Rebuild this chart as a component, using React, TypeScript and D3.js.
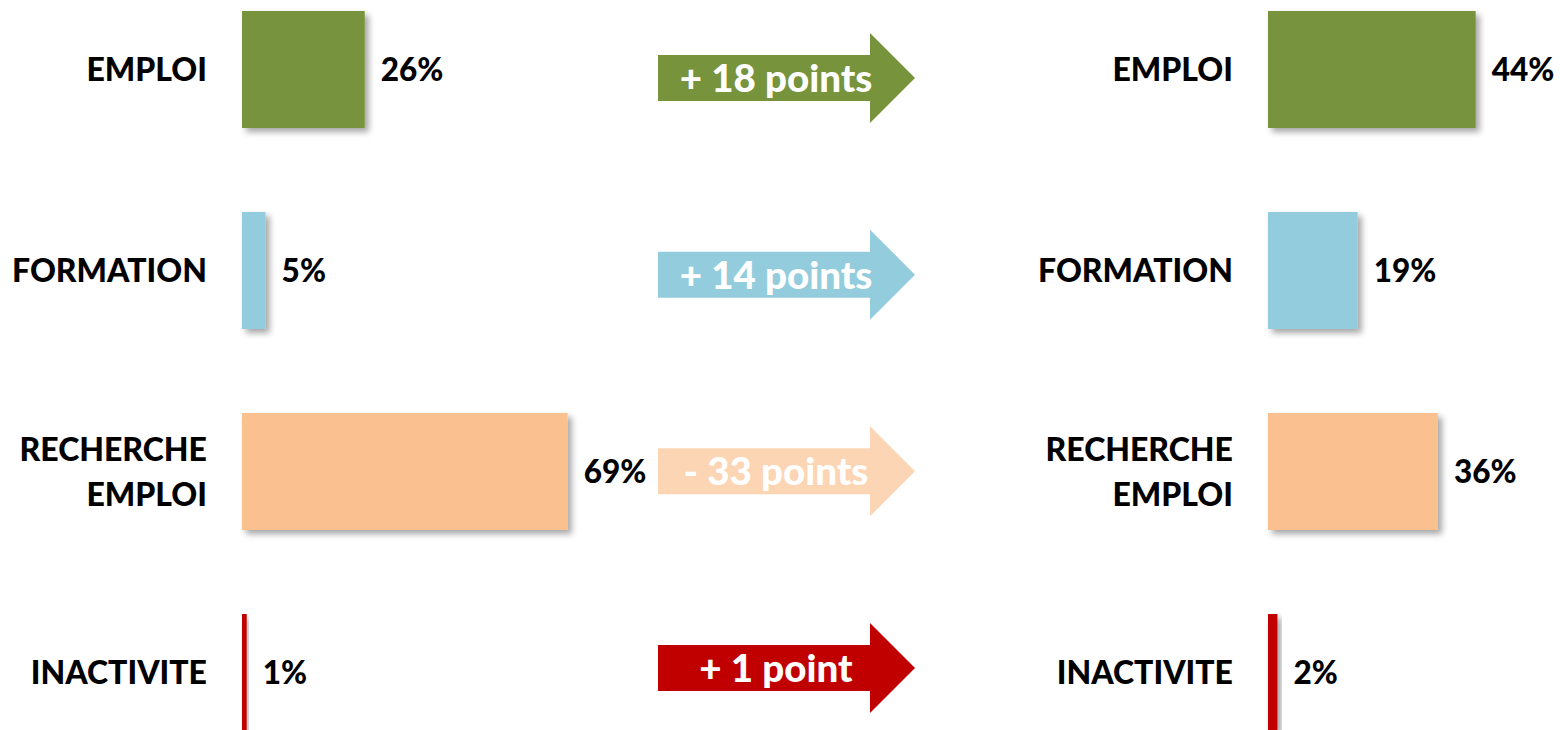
import * as d3 from 'd3';

const categories = ['EMPLOI', 'FORMATION', 'RECHERCHE EMPLOI', 'INACTIVITE'];
const labelLines = [['EMPLOI'], ['FORMATION'], ['RECHERCHE', 'EMPLOI'], ['INACTIVITE']];
const before = [26, 5, 69, 1];
const after = [44, 19, 36, 2];
const deltas = ['+ 18 points', '+ 14 points', '- 33 points', '+ 1 point'];
const barColors = ['#77933C', '#93CDDD', '#FAC090', '#C00000'];
const arrowColors = ['#77933C', '#93CDDD', '#FCD5B5', '#C00000'];

const W = 1560;
const H = 730;
const font = 'Lato, "Open Sans", sans-serif';

export default function App() {
  const y = d3.scaleBand<string>().domain(categories).range([11, 731]).paddingInner(84 / 201).paddingOuter(0);
  const yArrow = d3.scalePoint<string>().domain(categories).range([78, 668]);
  const xLeft = d3.scaleLinear().domain([0, 100]).range([242, 714]);
  const xRight = d3.scaleLinear().domain([0, 100]).range([1268, 1740]);

  const arrowX0 = 658;
  const arrowNeck = 870;
  const arrowTip = 915;
  const bodyHalf = 23;
  const headHalf = 45;

  const arrowPath = (cy: number) => {
    const p = d3.path();
    p.moveTo(arrowX0, cy - bodyHalf);
    p.lineTo(arrowNeck, cy - bodyHalf);
    p.lineTo(arrowNeck, cy - headHalf);
    p.lineTo(arrowTip, cy);
    p.lineTo(arrowNeck, cy + headHalf);
    p.lineTo(arrowNeck, cy + bodyHalf);
    p.lineTo(arrowX0, cy + bodyHalf);
    p.closePath();
    return p.toString();
  };

  const panel = (x: d3.ScaleLinear<number, number>, values: number[], labelRight: number, key: string) => (
    <g key={key}>
      {categories.map((c, i) => {
        const y0 = y(c)!;
        const cy = y0 + y.bandwidth() / 2;
        const lines = labelLines[i];
        return (
          <g key={c}>
            <rect
              x={x(0)}
              y={y0}
              width={x(values[i]) - x(0)}
              height={y.bandwidth()}
              fill={barColors[i]}
              filter="url(#shadow)"
            />
            <text
              x={x(values[i]) + 16}
              y={cy}
              dy="0.36em"
              fontFamily={font}
              fontWeight={900}
              fontSize={31.5}
              fill="#000"
            >
              {values[i]}%
            </text>
            {lines.map((l, j) => (
              <text
                key={j}
                x={labelRight}
                y={cy + (j - (lines.length - 1) / 2) * 45}
                dy="0.36em"
                textAnchor="end"
                fontFamily={font}
                fontWeight={900}
                fontSize={32}
                fill="#000"
              >
                {l}
              </text>
            ))}
          </g>
        );
      })}
    </g>
  );

  return (
    <svg width={W} height={H} style={{ position: 'absolute', left: 0, top: 0, background: '#fff' }}>
      <defs>
        <filter id="shadow" x="-20%" y="-20%" width="160%" height="160%">
          <feDropShadow dx="4" dy="4" stdDeviation="3" floodColor="#000" floodOpacity="0.35" />
        </filter>
      </defs>
      <rect width={W} height={H} fill="#fff" />
      {panel(xLeft, before, 207, 'left')}
      {panel(xRight, after, 1233, 'right')}
      {categories.map((c, i) => {
        const cy = yArrow(c)!;
        return (
          <g key={c}>
            <path d={arrowPath(cy)} fill={arrowColors[i]} />
            <text
              x={(arrowX0 + arrowNeck) / 2 + 12}
              y={cy}
              dy="0.36em"
              textAnchor="middle"
              fontFamily={font}
              fontWeight={900}
              fontSize={38.5}
              fill="#fff"
            >
              {deltas[i]}
            </text>
          </g>
        );
      })}
    </svg>
  );
}
